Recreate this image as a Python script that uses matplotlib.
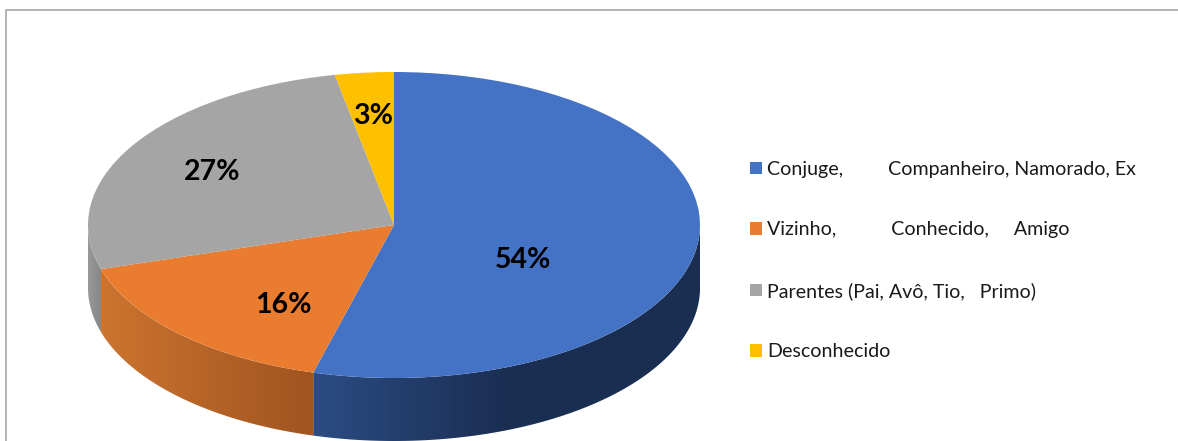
import numpy as np
import matplotlib
matplotlib.use('Agg')
from matplotlib import pyplot as plt
from matplotlib.colors import LinearSegmentedColormap
from matplotlib.patches import Polygon

labels = ['Conjuge,         Companheiro, Namorado, Ex',
          'Vizinho,           Conhecido,     Amigo',
          'Parentes (Pai, Avô, Tio,   Primo)',
          'Desconhecido']
values = [54.25, 16.1, 26.55, 3.1]
colors = ['#4472C4', '#EA7C30', '#A5A5A5', '#FFC000']
# wall shading, left to right end of each slice
wallColors = [['#2C4C84', '#1A2E52', '#1A2E52'],
              ['#CC7430', '#A0541F'],
              ['#9A9A9A', '#868686'],
              ['#BF9000', '#BF9000']]
labelPos = [(523, 260), (283, 305), (212, 172), (373, 116)]

W, H = 1178, 441
cx, cy, rx, ry = 394, 225, 306, 153
depth = 63 / ry

plt.rcParams['font.family'] = ['Lato', 'DejaVu Sans']

def toData(px, py):
	return (px - cx) / rx, (cy - py) / ry

fig = plt.figure(figsize=(W / 100, H / 100), dpi=100)
ax = fig.add_axes([0, 0, 1, 1])

wedges, texts, autotexts = ax.pie(values, colors=colors, startangle=90, counterclock=False,
	autopct='%1.0f%%', wedgeprops={'linewidth': 0, 'zorder': 3}, textprops={'zorder': 5})

for t, pos in zip(autotexts, labelPos):
	t.set_position(toData(*pos))
	t.set_fontsize(20.5)
	t.set_fontweight('bold')
	t.set_color('black')
	t.set_ha('center')
	t.set_va('center')

# side wall, only the front half of the ellipse shows
edges = np.radians(np.cumsum([0] + values) * 3.6)
for ii in range(len(values)):
	a = max(edges[ii], np.pi / 2)
	b = min(edges[ii + 1], 3 * np.pi / 2)
	if b <= a:
		continue
	t = np.linspace(a, b, 200)
	xs, ys = np.sin(t), np.cos(t)
	poly = np.vstack([np.column_stack([xs, ys]), np.column_stack([xs[::-1], ys[::-1] - depth])])
	patch = Polygon(poly, closed=True, facecolor='none', edgecolor='none', zorder=2)
	ax.add_patch(patch)
	cmap = LinearSegmentedColormap.from_list('wall%d' % ii, wallColors[ii])
	grad = np.linspace(0, 1, 256).reshape(1, -1)
	im = ax.imshow(grad, cmap=cmap, aspect='auto', zorder=2, interpolation='bilinear',
		extent=[xs.min(), xs.max(), ys.min() - depth, ys.max()])
	im.set_clip_path(patch)

ax.set_aspect('auto')
ax.set_xlim(-cx / rx, (W - cx) / rx)
ax.set_ylim((cy - H) / ry, cy / ry)

# chart frame, open at right and bottom of the crop
ax.plot(*zip(toData(5.5, H), toData(5.5, 10), toData(W, 10)), color='#A6A6A6', lw=1.2, zorder=1)

leg = ax.legend(wedges, labels, loc='center left', bbox_to_anchor=(750 / W, 1 - 260.5 / H),
	frameon=False, fontsize=14.1, handlelength=0.61, handleheight=0.61, handletextpad=0.28,
	labelspacing=2.22, borderpad=0, borderaxespad=0)
for t in leg.get_texts():
	t.set_color('#1A1A1A')

fig.savefig('out.png', dpi=100)
plt.close()
